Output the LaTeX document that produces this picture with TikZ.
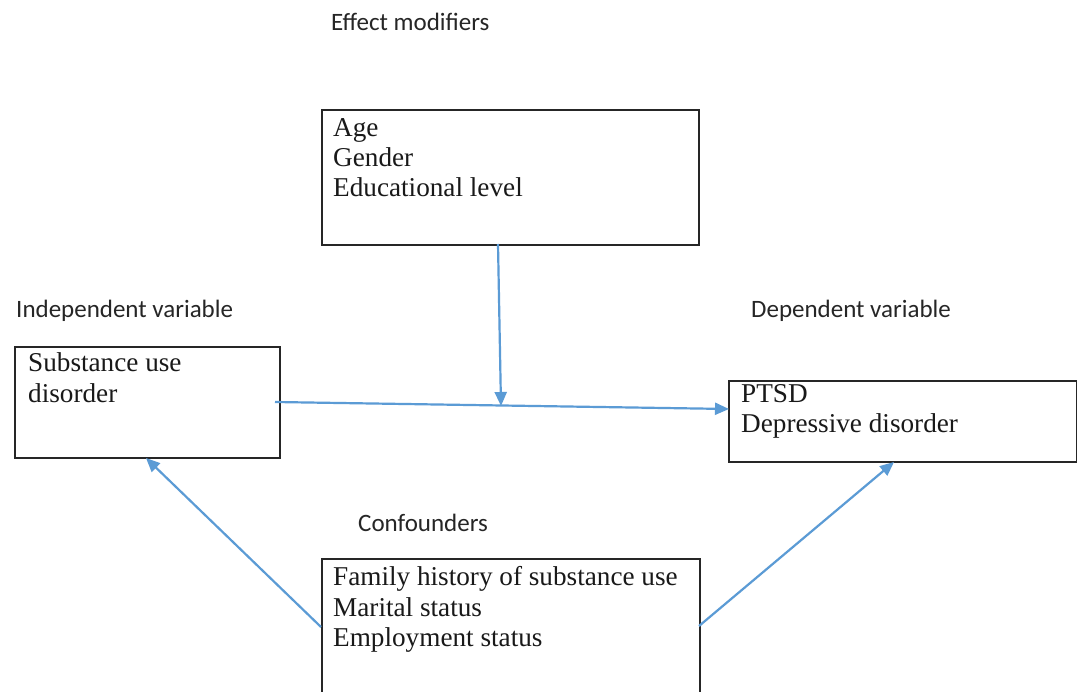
\documentclass[tikz,border=0pt]{standalone}
\usepackage{fontspec}
\setmainfont{Liberation Serif}
\newfontfamily\labelfont{Carlito}
\usetikzlibrary{arrows.meta}
\definecolor{arrowblue}{HTML}{5B9BD5}
\begin{document}
\begin{tikzpicture}[x=1pt,y=-1pt,
  box/.style={draw=black!85,line width=1.6pt,rectangle,inner sep=0pt,anchor=north west},
  boxtext/.style={anchor=base west,inner sep=0pt,align=left,font=\fontsize{27.2}{30}\selectfont,text=black!90},
  caption/.style={anchor=base west,inner sep=0pt,font=\labelfont\fontsize{25}{28}\selectfont,text=black!85},
  link/.style={draw=arrowblue,line width=2.2pt,-{Triangle[length=14pt,width=12pt]}}]
\useasboundingbox[fill=white] (0,0) rectangle (1077,692);

% boxes
\node[box,minimum width=377pt,minimum height=135pt] (eff) at (321,109) {};
\node[box,minimum width=265pt,minimum height=111pt] (ind) at (14,346) {};
\node[box,minimum width=348pt,minimum height=81pt] (dep) at (728,380) {};
\node[box,minimum width=378pt,minimum height=160pt] (conf) at (321,558) {};

% box texts
\node[boxtext] (efftxt) at (333,137) {Age};
\node[boxtext] (efftxt2) at (333,167) {Gender};
\node[boxtext] (efftxt3) at (333,197) {Educational level};
\node[boxtext] (indtxt) at (28,372) {Substance use};
\node[boxtext] (indtxt2) at (28,403) {disorder};
\node[boxtext] (deptxt) at (741,403) {PTSD};
\node[boxtext] (deptxt2) at (741,433) {Depressive disorder};
\node[boxtext] (conftxt) at (333,585) {Family history of substance use};
\node[boxtext] (conftxt2) at (333,616) {Marital status};
\node[boxtext] (conftxt3) at (333,646) {Employment status};

% captions
\node[caption] (capeff) at (331,31) {Effect modifiers};
\node[caption] (capind) at (16,318) {Independent variable};
\node[caption] (capdep) at (751,318) {Dependent variable};
\node[caption] (capconf) at (358,531) {Confounders};

% connector points
\coordinate (effout) at (498,244);
\coordinate (join) at (501,406);
\coordinate (indout) at (275,402);
\coordinate (depin) at (729,409);
\coordinate (confl) at (321,627);
\coordinate (indin) at (146,458);
\coordinate (confr) at (699,626);
\coordinate (depin2) at (894,462);

\draw[link] (indout) -- (depin);
\draw[link] (effout) -- (join);
\draw[link] (confl) -- (indin);
\draw[link] (confr) -- (depin2);
\end{tikzpicture}
\end{document}
